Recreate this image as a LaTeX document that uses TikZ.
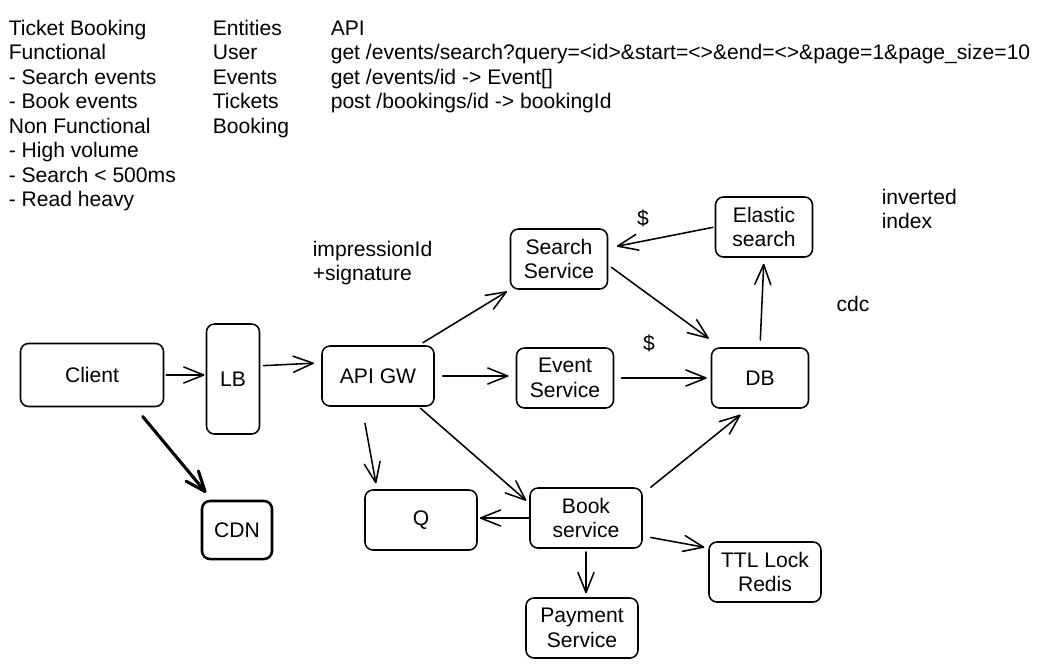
\documentclass[tikz,border=0pt]{standalone}
\usepackage{fontspec}
\setmainfont{Liberation Sans}
\usetikzlibrary{arrows.meta}

\begin{document}
\begin{tikzpicture}[x=0.025cm, y=-0.025cm, >={Straight Barb[length=5mm, width=4mm, round]}, ->,
    line width=1.1pt, line cap=round, font=\fontsize{15}{17.4}\selectfont]
    \tikzstyle{box} = [draw, rounded corners=0.2cm, align=center, inner sep=0pt, minimum height=1.5cm]
    \tikzstyle{wide} = [box, minimum width=2.8cm]
    \tikzstyle{slim} = [box, minimum width=2.425cm]
    \tikzstyle{note} = [align=left, inner sep=0pt]
    \tikzstyle{txt} = [anchor=base west, inner sep=0pt]
    \useasboundingbox (0,0) rectangle (1042,667);

    % notes at the top
    \foreach \t [count=\i] in {Ticket Booking, Functional, - Search events, - Book events,
        Non Functional, - High volume, - Search < 500ms, - Read heavy}
        \node[txt] (req\i) at (8, {35+24.5*(\i-1)}) {\t};
    \foreach \t [count=\i] in {Entities, User, Events, Tickets, Booking}
        \node[txt] (ent\i) at (212, {35+24.5*(\i-1)}) {\t};
    \foreach \t [count=\i] in {API, {get /events/search?query=<id>\&start=<>\&end=<>\&page=1\&page\_size=10},
        {get /events/id -> Event[]}, {post /bookings/id -> bookingId}}
        \node[txt] (api\i) at (330, {35+24.5*(\i-1)}) {\t};

    % boxes
    \node[box, minimum width=3.575cm, minimum height=1.575cm] (client) at (92,375) {Client};
    \node[box, minimum width=1.325cm, minimum height=2.75cm] (lb) at (233,379) {LB};
    \node[wide] (gw) at (378,376) {API GW};
    \node[box, minimum width=1.75cm, minimum height=1.45cm, line width=1.8pt] (cdn) at (237,530) {CDN};
    \node[wide] (q) at (421,520) {Q};
    \node[wide] (book) at (586,518) {Book\\service};
    \node[wide] (pay) at (582,628) {Payment\\Service};
    \node[wide] (ttl) at (765,572) {TTL Lock\\Redis};
    \node[slim] (search) at (559,259) {Search\\Service};
    \node[slim] (event) at (565,378) {Event\\Service};
    \node[slim] (db) at (760,378) {DB};
    \node[slim] (elastic) at (764,227) {Elastic\\search};

    % side labels
    \node[note] (cache1) at (643,218) {\$};
    \node[note] (cache2) at (649,343) {\$};
    \node[note, anchor=north west] (inv) at (881,188) {inverted\\index};
    \node[note] (cdc) at (853,304) {cdc};
    \node[note, anchor=north west] (sig) at (312,240) {impressionId\\+signature};

    % arrows
    \draw[shorten <=0.05cm, shorten >=0.03cm] (client.east) -- (client.east -| lb.west);
    \draw[shorten <=0.08cm, shorten >=0.18cm] ([yshift=0.33cm]lb.east) -- ([yshift=0.33cm]gw.west);
    \draw[line width=2.2pt, shorten <=0.3cm, shorten >=0.23cm] ([xshift=1.075cm]client.south) -- ([xshift=0.28cm]cdn.north west);
    \draw[shorten <=0.42cm, shorten >=0.15cm] ([xshift=-0.4cm]gw.south) -- ([xshift=-1.1cm]q.north);
    \draw[shorten <=0.12cm, shorten >=0.08cm] ([xshift=-0.4cm]gw.north east) -- (search.south west);
    \draw[shorten <=0.2cm, shorten >=0.18cm] (gw.east) -- (gw.east -| event.west);
    \draw[shorten <=0.05cm, shorten >=0.1cm] ([xshift=-0.4cm]gw.south east) -- ([yshift=-0.4cm]book.north west);
    \draw[shorten <=0.1cm, shorten >=0.37cm] ([yshift=-0.15cm]search.east) -- ([xshift=0.25cm]db.north west);
    \draw[shorten <=0.18cm, shorten >=0.1cm] (event.east) -- (event.east -| db.west);
    \draw[shorten <=0.18cm, shorten >=0.15cm] (db.north) -- (elastic.south);
    \draw[shorten <=0.05cm, shorten >=0.22cm] (elastic.west) -- ([yshift=0.275cm]search.east);
    \draw[shorten >=0.24cm] ([xshift=0.2cm]book.north east) -- ([xshift=-0.3cm]db.south);
    \draw[shorten >=0.05cm] (book.west) -- (book.west -| q.east);
    \draw[shorten <=0.08cm, shorten >=0.1cm] (book.south) -- (book.south |- pay.north);
    \draw[shorten <=0.2cm, shorten >=0.1cm] ([yshift=-0.45cm]book.east) -- ([yshift=0.6cm]ttl.west);
\end{tikzpicture}
\end{document}
